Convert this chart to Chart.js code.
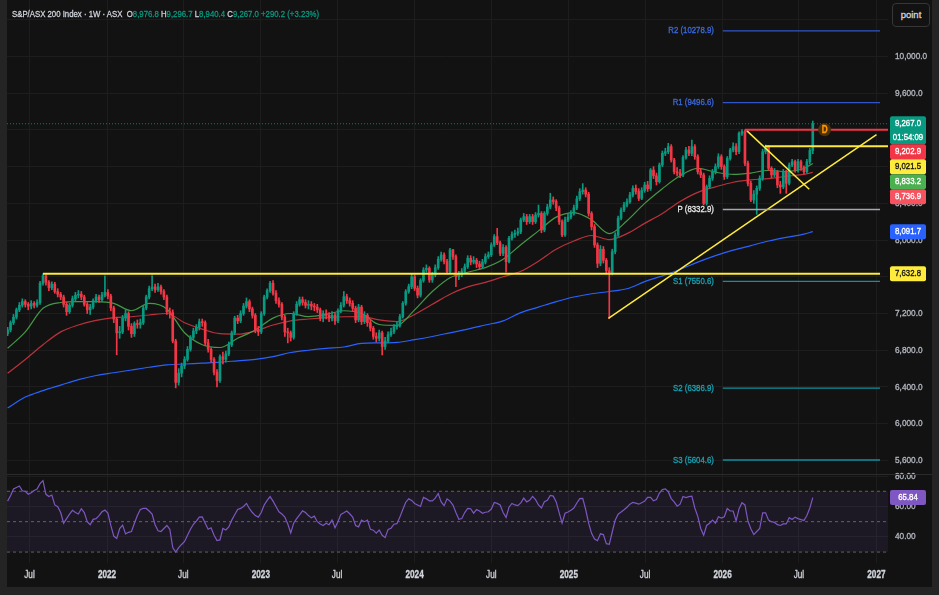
<!DOCTYPE html>
<html>
<head>
<meta charset="utf-8">
<title>S&amp;P/ASX 200 Index · 1W</title>
<script src="https://cdn.jsdelivr.net/npm/chart.js@4.4.1/dist/chart.umd.min.js"></script>
<style>
html,body{margin:0;padding:0}
body{width:939px;height:595px;overflow:hidden;background:#242424;font-family:"Liberation Sans",Arial,sans-serif}
#wrap{position:absolute;left:7px;top:0;width:925px;height:587px;background:#121212}
#pricebox{position:absolute;left:0;top:0;width:925px;height:475px}
#rsibox{position:absolute;left:0;top:465px;width:925px;height:122px}
#sep{position:absolute;left:0;top:474px;width:925px;height:1px;background:#2b2b2b}
#hdr{position:absolute;left:5px;top:7px;font-size:9.5px;color:#d1d4dc;white-space:nowrap;line-height:14px;transform:scaleX(0.82);transform-origin:0 50%;-webkit-text-stroke:0.3px currentColor}
#hdr .v{color:#089981}
#btn{position:absolute;left:885px;top:3px;width:36px;height:22px;border:1px solid #363636;border-radius:4px;color:#d1d4dc;font-size:9.5px;line-height:22px;text-align:center;background:#121212;-webkit-text-stroke:0.3px currentColor}
</style>
</head>
<body>
<div id="wrap">
  <div id="pricebox"><canvas id="price"></canvas></div>
  <div id="rsibox"><canvas id="rsi"></canvas></div>
  <div id="sep"></div>
  <div id="hdr"></div>
  <div id="btn">point</div>
</div>
<script>
// weekly candles, first week 2021-05-10
const startDate = '2021-05-10'
const firstOpen = 6980
const closes = [
  7022,7100,7160,7240,7290,7330,7300,7280,7310,7290,
  7320,7530,7610,7540,7480,7520,7440,7410,7380,7300,
  7220,7290,7360,7400,7410,7380,7300,7240,7270,7340,
  7380,7350,7400,7430,7390,7260,7140,6990,7000,7150,
  7200,7060,6980,7090,7080,7100,7260,7380,7470,7490,
  7460,7490,7440,7380,7220,7210,6900,6450,6550,6630,
  6700,6810,6940,7010,7050,7110,7100,6880,6810,6700,
  6560,6470,6730,6700,6760,6860,6990,7150,7120,7200,
  7280,7330,7250,7180,7020,7000,7200,7380,7450,7530,
  7420,7340,7300,7160,7000,6990,6940,7200,7300,7350,
  7320,7290,7300,7280,7270,7240,7150,7200,7180,7150,
  7180,7120,7230,7290,7384,7340,7311,7257,7130,7270,
  7112,7180,7100,7040,6950,6930,6990,6840,6900,6970,
  7003,7057,7070,7166,7312,7439,7493,7600,7475,7400,
  7560,7675,7693,7566,7620,7700,7790,7838,7766,7657,
  7893,7820,7600,7620,7660,7710,7802,7760,7780,7740,
  7710,7760,7820,7840,7947,8038,7970,7856,7920,7765,
  8020,8060,8074,8090,8219,8255,8200,8255,8200,8273,
  8290,8110,8291,8360,8437,8420,8350,8200,8056,8220,
  8250,8291,8350,8450,8527,8545,8500,8291,8146,7947,
  7747,7900,7780,7667,7646,7874,8055,8237,8328,8382,
  8418,8491,8564,8530,8455,8540,8600,8560,8763,8700,
  8636,8818,8945,8963,9018,8872,8745,8730,8709,8900,
  8981,8945,9018,8909,8745,8710,8400,8582,8672,8745,
  8800,8908,8800,8691,8890,8981,9018,8963,9163,9181,
  8836,8618,8437,8500,8564,8672,8963,9018,8782,8710,
  8745,8600,8580,8745,8618,8818,8854,8763,8854,8790,
  8745,8854,8976.8,9267.0
]
const highs = [
  7050,7120,7190,7260,7320,7360,7350,7320,7340,7330,
  7350,7550,7633,7625,7560,7545,7540,7470,7430,7400,
  7320,7310,7390,7430,7450,7440,7400,7320,7300,7360,
  7410,7400,7430,7610,7460,7410,7280,7160,7060,7180,
  7240,7220,7090,7110,7130,7140,7280,7400,7500,7612,
  7520,7530,7510,7460,7400,7260,7240,6920,6600,6660,
  6730,6840,6960,7040,7080,7140,7140,7120,6920,6830,
  6720,6590,6750,6780,6790,6890,7010,7170,7180,7230,
  7310,7370,7350,7270,7200,7060,7220,7400,7470,7550,
  7560,7450,7370,7320,7180,7040,7010,7220,7330,7380,
  7380,7350,7340,7330,7310,7300,7260,7230,7240,7210,
  7220,7210,7250,7320,7440,7410,7370,7340,7280,7300,
  7290,7220,7200,7130,7060,6990,7020,7010,6940,7000,
  7040,7080,7110,7190,7330,7460,7520,7630,7620,7500,
  7580,7700,7730,7710,7650,7730,7820,7870,7860,7790,
  7910,7900,7840,7660,7690,7740,7830,7830,7820,7800,
  7770,7790,7850,7870,7970,8060,8128,7990,7950,7940,
  8040,8090,8110,8130,8240,8290,8280,8280,8280,8300,
  8382,8310,8310,8390,8510,8470,8440,8370,8220,8250,
  8290,8320,8380,8480,8560,8615,8570,8520,8310,8170,
  7970,7940,7930,7800,7700,7900,8080,8260,8350,8410,
  8450,8520,8590,8600,8560,8570,8630,8640,8780,8800,
  8730,8840,8970,9000,9054,9040,8890,8790,8770,8920,
  9010,9020,9090,9040,8930,8780,8730,8600,8700,8770,
  8830,8940,8930,8820,8910,9000,9060,9050,9180,9203,
  9200,8860,8640,8540,8590,8700,8990,9036,9030,8800,
  8780,8760,8640,8770,8760,8840,8880,8870,8880,8870,
  8810,8880,9000,9296.7
]
const lows = [
  6960,7000,7080,7140,7220,7270,7270,7240,7250,7260,
  7270,7300,7510,7510,7450,7460,7420,7380,7350,7270,
  7180,7200,7270,7340,7370,7350,7280,7200,7190,7250,
  7320,7320,7330,7380,7360,7230,7100,6750,6930,6980,
  7120,7020,6940,6950,7040,7040,7080,7240,7360,7450,
  7430,7440,7410,7350,7190,7150,6880,6390,6420,6510,
  6600,6680,6790,6920,6980,7020,7060,6850,6780,6670,
  6530,6400,6450,6650,6670,6740,6840,6970,7090,7100,
  7180,7260,7220,7150,6990,6960,6980,7180,7360,7430,
  7400,7310,7270,7130,6950,6880,6900,6920,7180,7280,
  7290,7260,7250,7240,7230,7210,7120,7110,7140,7110,
  7120,7080,7100,7210,7270,7310,7280,7230,7100,7110,
  7080,7090,7060,7010,6920,6890,6900,6750,6810,6880,
  6950,6980,7030,7050,7150,7290,7420,7470,7450,7370,
  7380,7540,7650,7540,7540,7600,7680,7770,7740,7630,
  7640,7790,7493,7570,7600,7640,7690,7730,7740,7700,
  7680,7690,7740,7800,7820,7930,7950,7830,7830,7650,
  7750,8000,8030,8050,8070,8200,8170,8180,8170,8180,
  8250,8080,8090,8270,8340,8390,8320,8170,8037,8040,
  8200,8230,8270,8330,8430,8500,8470,8260,8110,7920,
  7700,7720,7750,7630,7147,7620,7850,8040,8220,8310,
  8360,8400,8470,8500,8430,8440,8520,8530,8540,8670,
  8600,8620,8800,8920,8940,8850,8720,8700,8680,8690,
  8880,8920,8920,8880,8720,8680,8382,8380,8560,8650,
  8720,8780,8770,8660,8670,8870,8960,8930,8940,9140,
  8810,8590,8419,8400,8280,8540,8650,8940,8760,8680,
  8690,8570,8509,8560,8509,8600,8800,8740,8740,8760,
  8720,8730,8830,8940.4
]
const rsi = [
  63.5,67,71.5,72.5,73.5,70.3,69.9,68,69,70.5,
  71.5,75,77,68,66.5,67.5,61,59.8,56,49,
  52,55,57.5,56,55,58.5,56,50,48,51.5,
  52,54,56.5,57.6,55.6,47.5,40.5,39,45.5,47.7,
  42,43,43.5,49,54,58,58.7,58.7,57,55,
  48,44,43.5,45.5,47.5,45,33,30,32.9,35,
  37,41,45,48.3,50.3,53,53.2,49,45,46,
  41,37.5,38,45.5,44.5,46.5,51,54.5,58,58.7,
  60,62,58.5,56,54,53,56,61,64,66.5,
  63.5,60,56.5,55,53,48.5,42.6,49,52,54.5,
  57.1,56,54,52.5,53.6,50,48.5,47.5,49,48,
  51,46,50,54.8,55.8,57,55.2,53,47.5,46.6,
  51,50,51,45,44.4,42.5,44.5,41,39.5,44.8,
  45.7,48.3,48.7,53,58,62.8,65,64,62,61,
  60,66,65,63.7,63.7,65.5,68.5,63,60.5,65,
  63.5,60.9,56,51.6,52.1,56,58.7,58.5,55.6,58,
  57,55.5,56.2,56.5,58.3,62.6,62,61,56,52.8,
  59.5,62,61,60.5,62.4,65.5,63,64,66.6,64.5,
  61,59,63.1,64,67.3,66.8,63,56,49,55.5,
  56.4,57.5,59,62.3,65.2,65.3,58,49,42.3,38.5,
  37.5,42,41.5,35.5,35.1,43.2,51,54.9,56.3,57.8,
  59.5,61.5,62.7,62.2,61.5,62.5,63.5,66,66,63.7,
  64.5,68.8,71.2,71.6,69.7,65.2,63,60.2,61.5,66.6,
  65.9,66.5,66.8,59,53.5,45.5,41,47.5,49,51,
  49,53.2,52.3,53.2,58.7,57.1,57,50.5,58.5,62.5,
  61,50.5,45.3,41.5,43.5,45.5,55.8,55.8,51,50,
  49.5,48,47.5,48.5,48.5,52.6,51.4,53,52,51.3,
  50.8,54,59,65.84
]

// moving averages, read every 6 weeks
const maWeeks = [0,6,12,18,24,30,36,42,48,54,60,66,72,78,84,90,96,102,108,114,120,126,132,138,144,150,156,162,168,174,180,186,192,198,204,210,216,222,228,234,240,246,252,258,264,270,273]
const greenMa = [6821,7000,7257,7320,7329,7329,7311,7230,7310,7250,6990,6860,6830,6930,7020,7150,7200,7166,7190,7230,7200,7080,7070,7240,7440,7590,7650,7700,7790,7950,8100,8250,8300,8220,8070,8210,8400,8560,8700,8780,8740,8715,8730,8760,8745,8780,8833.2]
const redMa = [6549,6700,6860,7000,7075,7125,7155,7165,7184,7200,7100,7030,6980,6975,7010,7075,7120,7140,7155,7165,7166,7130,7112,7190,7300,7410,7490,7540,7600,7660,7770,7900,7990,8050,8005,8070,8182,8290,8420,8520,8580,8630,8655,8670,8695,8715,8736.9]
const blueMa = [6171,6290,6360,6420,6480,6525,6555,6585,6615,6640,6650,6660,6670,6685,6700,6730,6775,6800,6820,6835,6875,6880,6885,6915,6950,6990,7030,7075,7120,7210,7270,7330,7380,7415,7440,7470,7547,7610,7680,7760,7830,7890,7940,7990,8030,8065,8091.7]

// time axis
const tickDates = ['2021-07-01','2022-01-01','2022-07-01','2023-01-01','2023-07-01','2024-01-01','2024-07-01','2025-01-01','2025-07-01','2026-01-01','2026-07-01','2027-01-01']
const tickLabels = ['Jul','2022','Jul','2023','Jul','2024','Jul','2025','Jul','2026','Jul','2027']
const priceTicks = [5600,6000,6400,6800,7200,7600,8000,8400,8800,9200,9600,10000,10400]
const rsiTicks = [40,60,80]
const rsiBand = [70,50,30]

// pivot levels
const pivotNames = ['R2','R1','P','S1','S2','S3']
const pivotValues = [10278.9,9496.6,8332.9,7550.6,6386.9,5604.6]
const pivotFrom = 242.5, pivotTo = 295.8

// drawings (week, price)
const supportLevel = 7632.8
const supportLine = [[12, supportLevel], [295.8, supportLevel]]
const topLevel = 9202.9
const topLine = [[250, topLevel], [298.5, topLevel]]
const breakLevel = 9021.5
const breakLine = [[256.8, breakLevel], [298.5, breakLevel]]
const wedgeLine = [[250.6, 9192], [271.8, 8553]]
const trendLine = [[203.7, 7148], [294.6, 9148]]
const markWeek = 277, markLabel = 'D'
const countdown = '01:54:09'

// ---------------------------------------------------------------
const FONT = '"Liberation Sans", Arial, sans-serif'
Chart.defaults.font.family = FONT
Chart.defaults.font.size = 9.5
Chart.defaults.color = '#b2b5be'

const UP = '#089981', DN = '#f23645', GRID = '#1d1d1d'
const xMin = -0.2, xMax = 298.5

const opens = closes.map((c, i) => i ? closes[i - 1] : firstOpen)
const colors = closes.map((c, i) => c >= opens[i] ? UP : DN)
const tickWeeks = tickDates.map(d => (Date.parse(d) - Date.parse(startDate)) / 6048e5)
const fmt = (v, d = 1) => v.toLocaleString('en-US', {minimumFractionDigits: d, maximumFractionDigits: d})

// condensed canvas text, like the terminal font
const text = (ctx, s, x, y, align, font, color, narrow = 0.82) => {
  ctx.save()
  ctx.font = font
  ctx.fillStyle = color
  ctx.strokeStyle = color
  ctx.lineWidth = 0.35
  ctx.textAlign = align
  ctx.textBaseline = 'middle'
  ctx.translate(x, y)
  ctx.scale(narrow, 1)
  ctx.fillText(s, 0, 0)
  ctx.strokeText(s, 0, 0)
  ctx.restore()
}

// header
const last = closes.length - 1
const chg = closes[last] - closes[last - 1]
document.getElementById('hdr').innerHTML =
  'S&amp;P/ASX 200 Index · 1W · ASX&nbsp; ' +
  `O<span class="v">${fmt(opens[last])}</span> H<span class="v">${fmt(highs[last])}</span> ` +
  `L<span class="v">${fmt(lows[last])}</span> C<span class="v">${fmt(closes[last])}</span> ` +
  `<span class="v">+${fmt(chg)} (+${fmt(chg / closes[last - 1] * 100, 2)}%)</span>`

const xAxis = labels => ({
  type: 'linear', min: xMin, max: xMax, offset: false,
  grid: {color: GRID, drawTicks: false, offset: false},
  border: {display: false},
  ticks: {display: false},
  afterBuildTicks: s => { s.ticks = tickWeeks.map(v => ({value: v})) },
  afterFit: s => { s.height = labels ? 24 : 0; s.paddingLeft = 0; s.paddingRight = 0 }
})

const yAxis = (min, max, ticks) => ({
  position: 'right', min, max,
  grid: {color: GRID, drawTicks: false},
  border: {display: false},
  ticks: {display: false},
  afterBuildTicks: s => { s.ticks = ticks.map(v => ({value: v})) },
  afterFit: s => { s.width = 44; s.paddingTop = 0; s.paddingBottom = 0 }
})

// tick labels of the right price scale and of the time scale
const axisLabels = (c, ticks, dec, withTime) => {
  const {ctx, scales: {x, y}, chartArea} = c
  ticks.forEach(v => {
    const py = y.getPixelForValue(v)
    if (py > chartArea.top - 2 && py < chartArea.bottom - 4)
      text(ctx, fmt(v, dec), y.left + 7, py, 'left', '9.5px ' + FONT, '#b2b5be', 0.87)
  })
  if (withTime) tickWeeks.forEach((w, k) => {
    const bold = /^\d/.test(tickLabels[k])
    text(ctx, tickLabels[k], x.getPixelForValue(w), chartArea.bottom + 12, 'center',
      (bold ? 'bold ' : '') + '10.5px ' + FONT, '#d1d4dc', 0.78)
  })
}

const badge = (ctx, left, top, h, bg, fg, lines) => {
  ctx.fillStyle = bg
  ctx.beginPath()
  ctx.roundRect(left, top, 36, h, 2)
  ctx.fill()
  lines.forEach((s, k) => text(ctx, s, left + 18, top + 7.5 + k * 13.5, 'center', '9.5px ' + FONT, fg))
}

const seg = (pts, color, width, dash) => ({
  type: 'line', data: pts.map(p => ({x: p[0], y: p[1]})),
  borderColor: color, borderWidth: width, borderDash: dash || [], pointRadius: 0, order: 0
})
const ma = (vals, color) => ({
  type: 'line', data: maWeeks.map((w, k) => ({x: w, y: vals[k]})),
  borderColor: color, borderWidth: 1.2, pointRadius: 0, cubicInterpolationMode: 'monotone', order: 2
})

const pivotLine = ['#2f55c8','#2f55c8','#a6a8b0','#0f8f9f','#0f8f9f','#0f8f9f']
const pivotText = ['#3b68dc','#3b68dc','#e6e6e6','#16a2b3','#16a2b3','#16a2b3']

const badges = [
  {v: closes[last], bg: UP, fg: '#fff', sub: countdown},
  {v: topLevel, bg: '#f23645', fg: '#fff'},
  {v: breakLevel, bg: '#ffeb3b', fg: '#131313'},
  {v: greenMa[greenMa.length - 1], bg: '#4caf50', fg: '#fff'},
  {v: redMa[redMa.length - 1], bg: '#f7525f', fg: '#fff'},
  {v: blueMa[blueMa.length - 1], bg: '#2962ff', fg: '#fff'},
  {v: supportLevel, bg: '#ffeb3b', fg: '#131313'}
]

const overlay = {
  id: 'overlay',
  afterDatasetsDraw(c) {
    const {ctx, scales: {x, y}} = c
    pivotNames.forEach((n, k) => {
      text(ctx, `${n} (${pivotValues[k].toFixed(1)})`, x.getPixelForValue(pivotFrom) - 9,
        y.getPixelForValue(pivotValues[k]), 'right', '9.5px ' + FONT, pivotText[k])
    })
    const mx = x.getPixelForValue(markWeek), my = y.getPixelForValue(topLevel)
    ctx.save()
    ctx.beginPath()
    ctx.arc(mx, my, 6.5, 0, Math.PI * 2)
    ctx.fillStyle = '#4d300c'
    ctx.fill()
    ctx.restore()
    text(ctx, markLabel, mx, my + 0.5, 'center', 'bold 10px ' + FONT, '#ff9800')
  },
  afterDraw(c) {
    const {ctx, scales: {y}} = c
    axisLabels(c, priceTicks, 1, false)
    let bottom = -Infinity
    ctx.save()
    badges.slice().sort((a, b) => b.v - a.v).forEach(b => {
      const h = b.sub ? 28 : 15
      const top = Math.max(y.getPixelForValue(b.v) - 7.5, bottom)
      badge(ctx, y.left + 2, top, h, b.bg, b.fg, b.sub ? [fmt(b.v), b.sub] : [fmt(b.v)])
      bottom = top + h
    })
    ctx.restore()
  }
}

new Chart(document.getElementById('price'), {
  type: 'line',
  data: {
    datasets: [
      ...pivotValues.map((v, k) => seg([[pivotFrom, v], [pivotTo, v]], pivotLine[k], 1.4)),
      seg(supportLine, '#ffeb3b', 2),
      seg(topLine, '#f23645', 2),
      seg(breakLine, '#ffeb3b', 2),
      seg(wedgeLine, '#ffeb3b', 1.5),
      seg(trendLine, '#ffeb3b', 1.5),
      seg([[xMin, closes[last]], [xMax, closes[last]]], 'rgba(8,153,129,0.8)', 1, [1, 2]),
      {type: 'bar', data: closes.map((c, i) => ({x: i, y: [opens[i], c]})), backgroundColor: colors,
        barThickness: 2, minBarLength: 1, grouped: false, order: 1},
      {type: 'bar', data: closes.map((c, i) => ({x: i, y: [lows[i], highs[i]]})), backgroundColor: colors,
        barThickness: 1, grouped: false, order: 1},
      ma(greenMa, 'rgba(76,175,80,0.85)'),
      ma(redMa, 'rgba(229,57,70,0.8)'),
      ma(blueMa, '#2962ff')
    ]
  },
  options: {
    responsive: true, maintainAspectRatio: false, animation: false, events: [],
    layout: {padding: 0},
    plugins: {legend: {display: false}, tooltip: {enabled: false}},
    scales: {x: xAxis(false), y: yAxis(5441, 10615, priceTicks)}
  },
  plugins: [overlay]
})

const rsiOverlay = {
  id: 'rsiOverlay',
  afterDraw(c) {
    const {ctx, scales: {y}} = c
    axisLabels(c, rsiTicks, 2, true)
    const v = rsi[rsi.length - 1]
    badge(ctx, y.left + 2, y.getPixelForValue(v) - 7.5, 15, '#7e57c2', '#fff', [v.toFixed(2)])
  }
}

const band = (v, k) => ({
  type: 'line', data: [{x: xMin, y: v}, {x: xMax, y: v}],
  borderColor: 'rgba(120,123,134,0.75)', borderWidth: 1, borderDash: [3, 3], pointRadius: 0,
  fill: k === 0 ? {target: {value: rsiBand[2]}, above: 'rgba(126,87,194,0.1)'} : false, order: 1
})

new Chart(document.getElementById('rsi'), {
  type: 'line',
  data: {
    datasets: [
      {data: rsi.map((v, i) => ({x: i, y: v})), borderColor: '#7e57c2', borderWidth: 1.2, pointRadius: 0, order: 0},
      ...rsiBand.map(band)
    ]
  },
  options: {
    responsive: true, maintainAspectRatio: false, animation: false, events: [],
    layout: {padding: {top: 10}},
    plugins: {legend: {display: false}, tooltip: {enabled: false}},
    scales: {x: xAxis(true), y: yAxis(22.8, 80.7, rsiTicks)}
  },
  plugins: [rsiOverlay]
})
</script>
</body>
</html>
